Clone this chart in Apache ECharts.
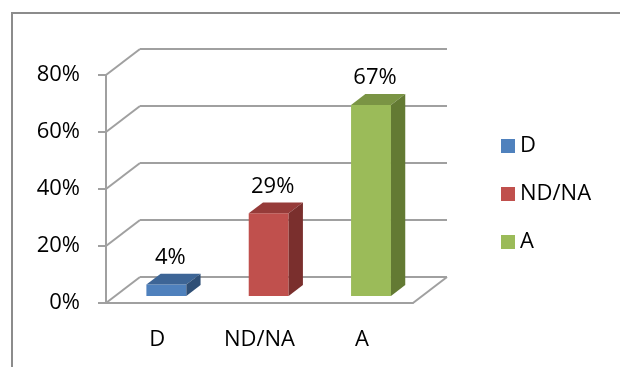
<!DOCTYPE html>
<html>
<head>
<meta charset="utf-8">
<script src="https://cdn.jsdelivr.net/npm/echarts@6/dist/echarts.min.js"></script>
<style>
html, body { margin: 0; padding: 0; background: #fff; }
#chart { width: 620px; height: 367px; }
</style>
</head>
<body>
<div id="chart"></div>
<script>
var categories = ['D', 'ND/NA', 'A'];
var values = [0.04, 0.29, 0.67];
var yTicks = [0, 0.2, 0.4, 0.6, 0.8];
var frontColors = ['#4f81bd', '#c0504d', '#9bbb59'];
var topColors = ['#3d6596', '#963b39', '#7a9444'];
var sideColors = ['#2f4f76', '#7a2f2d', '#637a33'];

// depth of the 3d box (back wall offset)
var DEPTH_X = 34, DEPTH_Y = -26;
var FONT = 'Open Sans';
var GRAY = '#a0a0a0';

var myChart = echarts.init(document.getElementById('chart'));

function renderWall(params, api) {
    var cs = params.coordSys;
    var v = api.value(1);
    var y = api.coord([0, v])[1];
    var x0 = cs.x, x1 = cs.x + cs.width;
    var st = { stroke: GRAY, lineWidth: 2 };
    var children = [
        { type: 'line', shape: { x1: x0, y1: y, x2: x0 + DEPTH_X, y2: y + DEPTH_Y }, style: st },
        { type: 'line', shape: { x1: x0 + DEPTH_X, y1: y + DEPTH_Y, x2: x1 + DEPTH_X, y2: y + DEPTH_Y }, style: st }
    ];
    if (v === 0) {
        children.push({ type: 'line', shape: { x1: x1, y1: y, x2: x1 + DEPTH_X, y2: y + DEPTH_Y }, style: st });
    }
    return { type: 'group', children: children };
}

function renderBar(params, api) {
    var idx = api.value(0);
    var val = api.value(1);
    var base = api.coord([idx, 0]);
    var top = api.coord([idx, val]);
    var band = api.size([1, 0])[0];
    var w = band * 0.39;
    var fx = DEPTH_X * 0.27, fy = DEPTH_Y * 0.27;
    var bx = DEPTH_X * 0.42, by = DEPTH_Y * 0.42;
    var l = base[0] - w / 2 + fx, r = l + w;
    var b = base[1] + fy, t = top[1] + fy;
    return {
        type: 'group',
        children: [
            { type: 'rect', shape: { x: l, y: t, width: w, height: b - t }, style: { fill: frontColors[idx] } },
            { type: 'polygon', shape: { points: [[l, t], [r, t], [r + bx, t + by], [l + bx, t + by]] }, style: { fill: topColors[idx] } },
            { type: 'polygon', shape: { points: [[r, t], [r + bx, t + by], [r + bx, b + by], [r, b]] }, style: { fill: sideColors[idx] } },
            { type: 'text', x: (l + r) / 2 + 4, y: t - 27, style: {
                text: Math.round(val * 100) + '%', align: 'center', verticalAlign: 'middle',
                fill: '#000', font: '22px "' + FONT + '"' } }
        ]
    };
}

var series = [{
    name: 'walls',
    type: 'custom',
    renderItem: renderWall,
    data: yTicks.map(function (v) { return [0, v]; }),
    z: 1,
    silent: true
}];
categories.forEach(function (c, i) {
    series.push({
        name: c,
        type: 'custom',
        renderItem: renderBar,
        data: [[i, values[i]]],
        itemStyle: { color: frontColors[i] },
        z: 3,
        silent: true
    });
});

var option = {
    animation: false,
    backgroundColor: '#fff',
    graphic: [{
        type: 'polyline',
        shape: { points: [[12, 400], [12, 13], [660, 13]] },
        style: { fill: null, stroke: '#8c8c8c', lineWidth: 2 },
        silent: true
    }],
    legend: {
        data: categories,
        orient: 'vertical',
        left: 501,
        top: 135,
        icon: 'rect',
        itemWidth: 14,
        itemHeight: 14,
        itemGap: 26,
        padding: 0,
        textStyle: { fontSize: 22, fontFamily: FONT, color: '#000' }
    },
    grid: { left: 106, right: 207, top: 75, bottom: 64 },
    xAxis: {
        type: 'category',
        data: categories,
        axisLine: { lineStyle: { color: GRAY, width: 2 } },
        axisTick: { length: 9, lineStyle: { color: GRAY, width: 2 } },
        axisLabel: { margin: 26, fontSize: 22, fontFamily: FONT, color: '#000' }
    },
    yAxis: {
        type: 'value',
        min: 0,
        max: 0.8,
        interval: 0.2,
        axisLine: { show: true, lineStyle: { color: GRAY, width: 2 } },
        axisTick: { show: true, length: 8, lineStyle: { color: GRAY, width: 2 } },
        splitLine: { show: false },
        axisLabel: {
            margin: 26, fontSize: 22, fontFamily: FONT, color: '#000',
            formatter: function (v) { return Math.round(v * 100) + '%'; }
        }
    },
    series: series
};
myChart.setOption(option);
</script>
</body>
</html>
